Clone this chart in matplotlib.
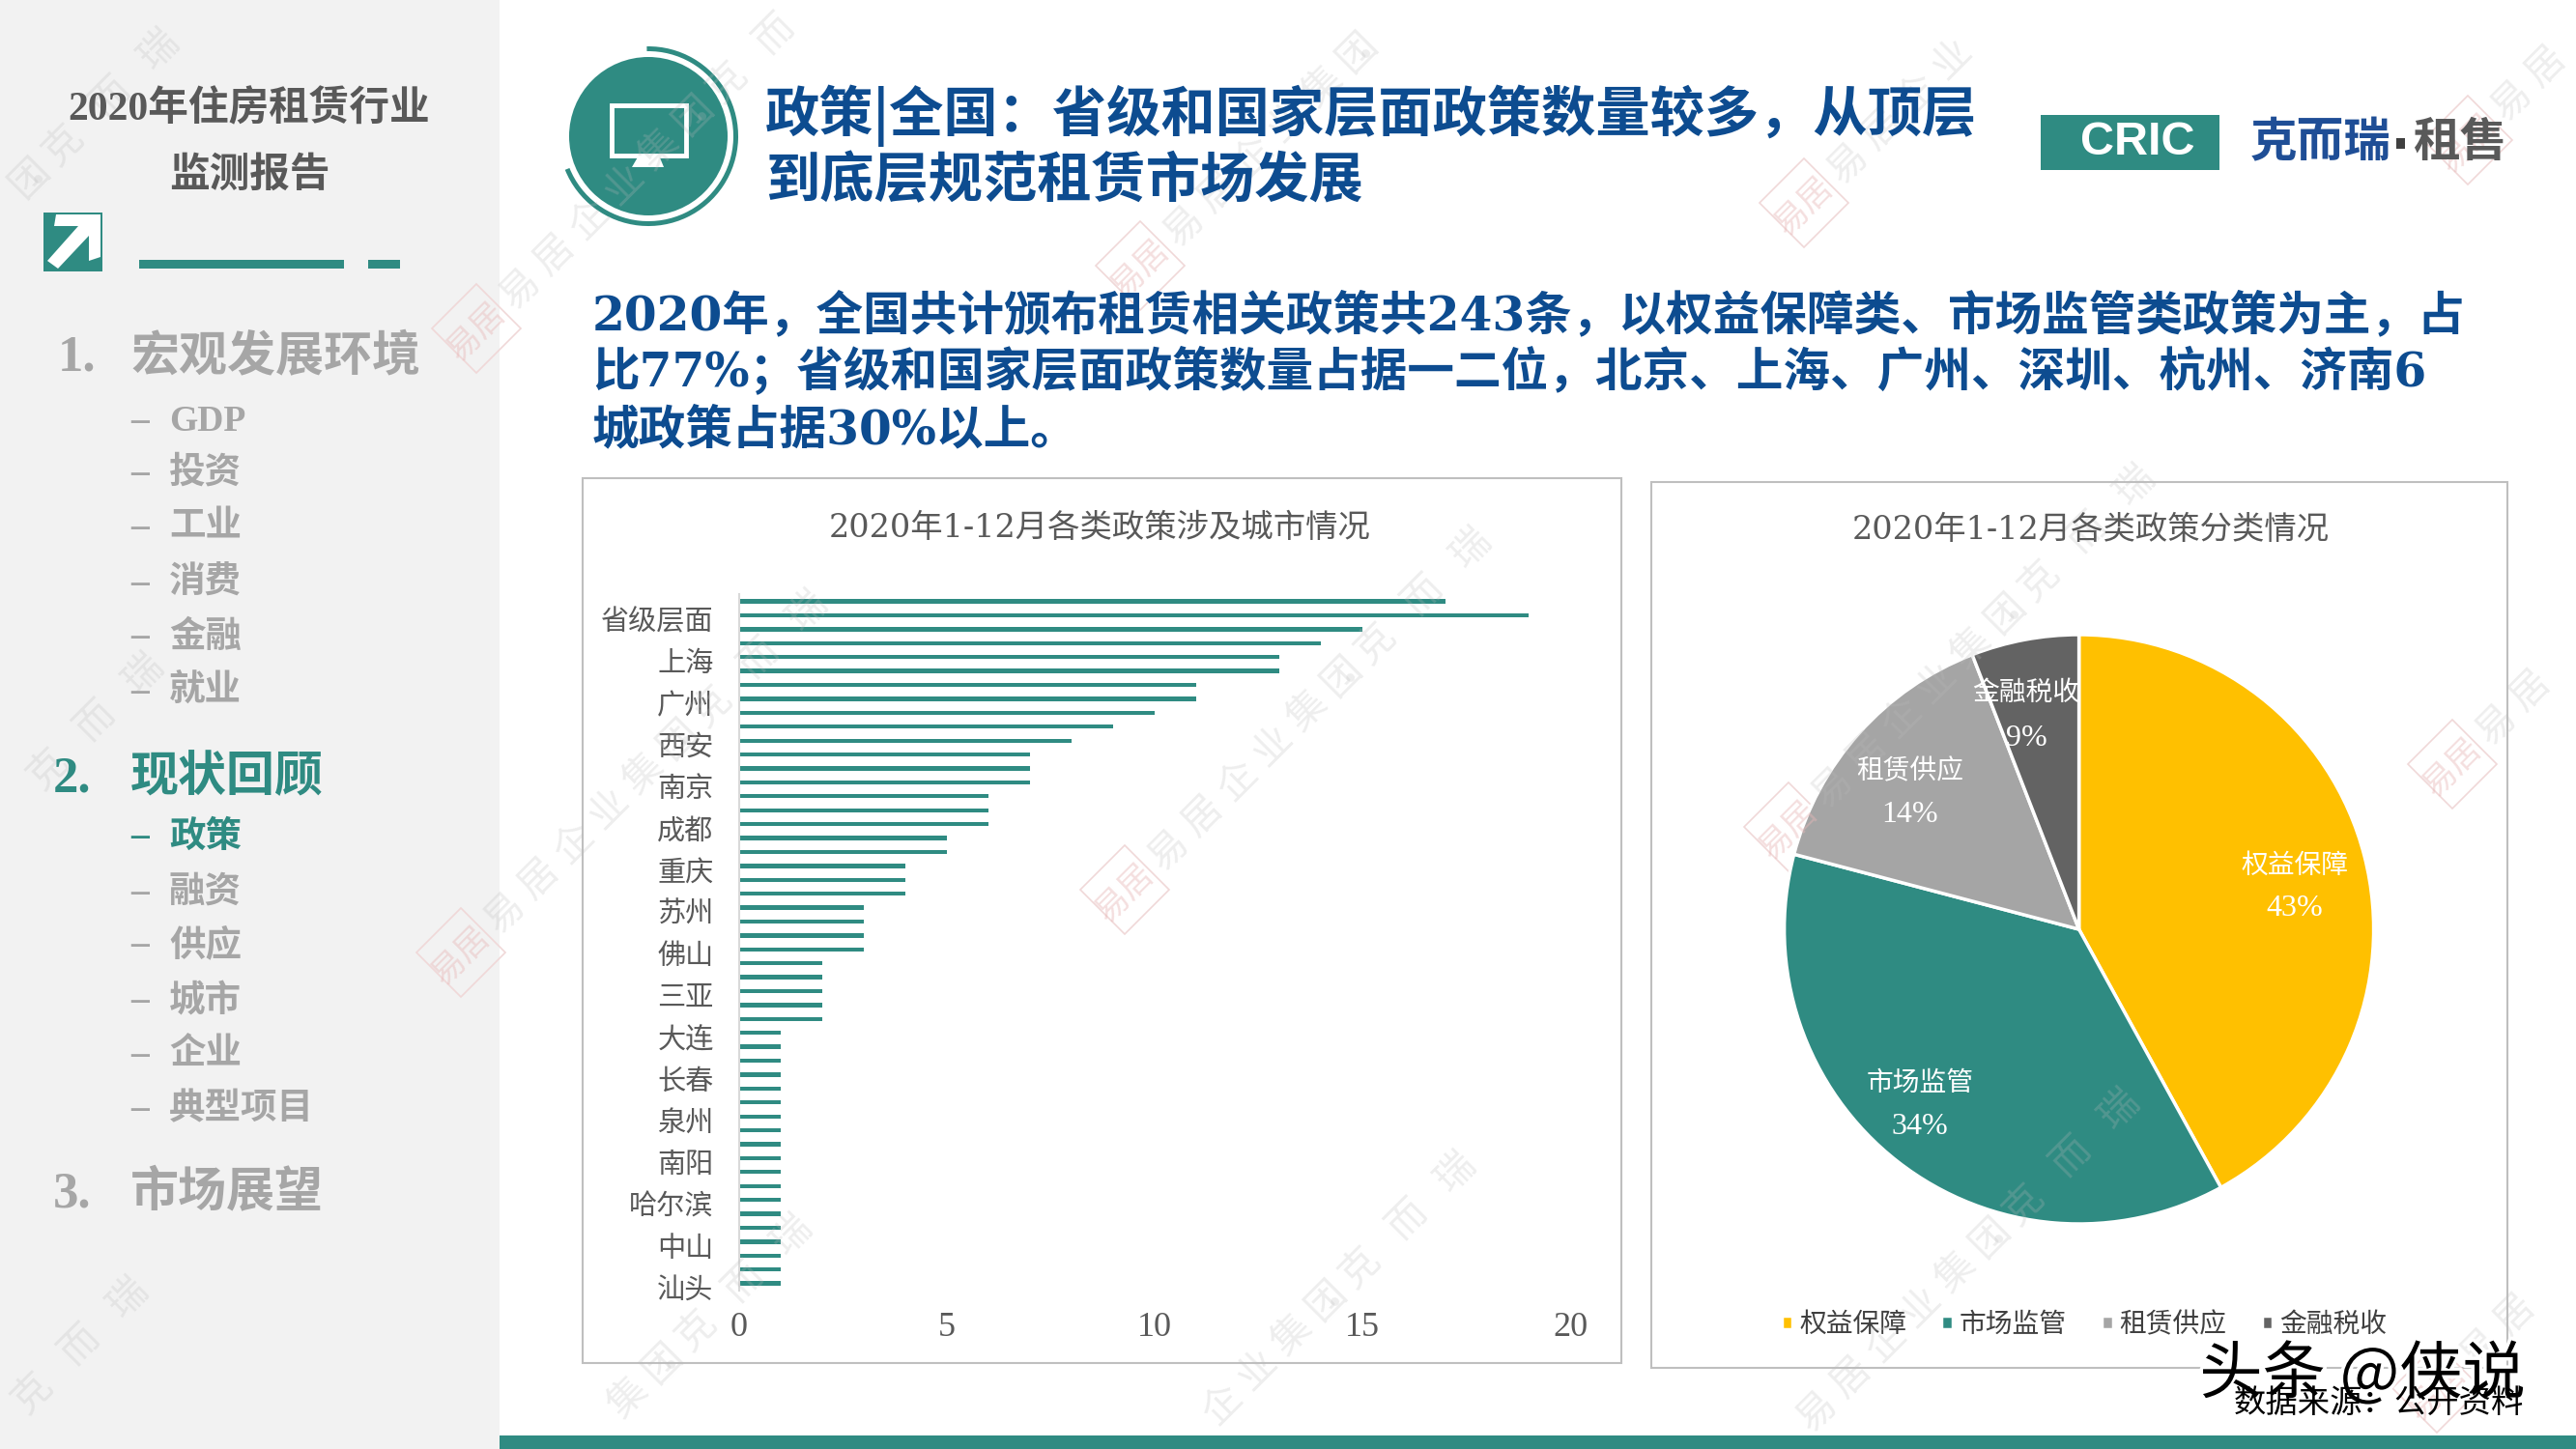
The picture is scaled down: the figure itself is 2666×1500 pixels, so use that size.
import matplotlib
matplotlib.use('Agg')
import matplotlib.pyplot as plt
import matplotlib.patheffects as pe
from matplotlib.patches import Rectangle, Circle, Wedge, Polygon
from matplotlib.transforms import ScaledTranslation

W, H = 2666, 1500
SERIF = ['Liberation Serif', 'Noto Sans CJK SC']
WIDE = ['DejaVu Serif', 'Noto Sans CJK SC']
CJK = ['Noto Sans CJK SC', 'DejaVu Sans']
TEAL = '#2F8B82'
BLUE = '#0D4C90'
GREY = '#A6A6A6'
DARK = '#595959'

# 条形图数据, 只有每三个城市显示一个标签
policy_counts = [17, 19, 15, 14, 13, 13, 11, 11, 10, 9, 8, 7, 7, 7, 6, 6, 6, 5, 5, 4, 4, 4, 3, 3, 3, 3,
                 2, 2, 2, 2, 2, 1, 1, 1, 1, 1, 1, 1, 1, 1, 1, 1, 1, 1, 1, 1, 1, 1, 1, 1]
city_labels = ['省级层面', '上海', '广州', '西安', '南京', '成都', '重庆', '苏州', '佛山', '三亚',
               '大连', '长春', '泉州', '南阳', '哈尔滨', '中山', '汕头']
x_ticks = [0, 5, 10, 15, 20]

# 饼图数据 (扇区大小按图上量出, 百分比文字按图上写的)
pie_names = ['权益保障', '市场监管', '租赁供应', '金融税收']
pie_sizes = [42, 37.1, 15, 5.9]
pie_percents = ['43%', '34%', '14%', '9%']
pie_colors = ['#FFC000', TEAL, '#A5A5A5', '#636363']

# 左侧目录
menu_main = [('1.', '宏观发展环境', 367, False), ('2.', '现状回顾', 802, True), ('3.', '市场展望', 1232, False)]
menu_sub = [('GDP', 432, False), ('投资', 486, False), ('工业', 542, False), ('消费', 600, False),
            ('金融', 656, False), ('就业', 712, False), ('政策', 863, True), ('融资', 920, False),
            ('供应', 975, False), ('城市', 1033, False), ('企业', 1088, False), ('典型项目', 1145, False)]

body_lines = ['2020年，全国共计颁布租赁相关政策共243条，以权益保障类、市场监管类政策为主，占',
              '比77%；省级和国家层面政策数量占据一二位，北京、上海、广州、深圳、杭州、济南6',
              '城政策占据30%以上。']

fig = plt.figure(figsize=(W / 100, H / 100), dpi=100, facecolor='white')


def px_axes(left, top, right, bottom, **kw):
    return fig.add_axes([left / W, 1 - bottom / H, (right - left) / W, (bottom - top) / H], **kw)


def txt(x, y, s, size, color=DARK, family=SERIF, weight='normal', ha='left', **kw):
    # 中文字形在 va=center 时偏上, 统一下移一点
    return fig.text(x / W, 1 - (y + 4) / H, s, fontsize=size, color=color, family=family, weight=weight,
                    ha=ha, va='center', **kw)


# 背景层, 用像素坐标画版式
bg = fig.add_axes([0, 0, 1, 1])
bg.set_xlim(0, W)
bg.set_ylim(H, 0)
bg.axis('off')
bg.add_patch(Rectangle((0, 0), 517, H, color='#F2F2F2', lw=0))
bg.add_patch(Rectangle((517, 1486), W - 517, 14, color=TEAL, lw=0, zorder=4))

# 箭头图标和横线
bg.add_patch(Rectangle((45, 220), 61, 61, color=TEAL, lw=0))
bg.add_patch(Polygon([(58, 222), (104, 222), (104, 266), (92, 270), (92, 244), (60, 278), (49, 270), (81, 234), (56, 234)],
                     color='white', lw=0))
bg.add_patch(Rectangle((144, 269), 212, 9, color=TEAL, lw=0))
bg.add_patch(Rectangle((381, 269), 33, 9, color=TEAL, lw=0))

# 标题前的圆形图标
bg.add_patch(Circle((671, 141), 82, color=TEAL, lw=0))
bg.add_patch(Wedge((671, 141), 93, -91, 158, width=5, color=TEAL, lw=0))
bg.add_patch(Rectangle((633, 109), 77, 52, facecolor='none', edgecolor='white', lw=3.5))
bg.add_patch(Polygon([(661, 161), (682, 161), (687, 173), (654, 173)], color='white', lw=0))

# logo
bg.add_patch(Rectangle((2112, 119), 185, 57, color=TEAL, lw=0))
bg.add_patch(Rectangle((2480, 143), 9, 11, color='#404040', lw=0))

# 两个图表的外框
bg.add_patch(Rectangle((603, 495), 1075, 916, facecolor='none', edgecolor='#BFBFBF', lw=1.5))
bg.add_patch(Rectangle((1709, 499), 886, 917, facecolor='none', edgecolor='#BFBFBF', lw=1.5))

# 水印
wm_offsets = [('易', 45), ('居', 81), ('企', 117), ('业', 153), ('集', 189), ('团', 225), ('·', 232),
              ('克', 259), ('而', 309), ('瑞', 358)]
for i in range(-1, 4):
    for j in range(0, 3):
        lx = 493 + i * 687 - j * 16
        ly = 340 - i * 65 + j * 646
        if 60 < lx < W - 60 and 60 < ly < H - 60:
            bg.add_patch(Polygon([(lx, ly - 46), (lx + 46, ly), (lx, ly + 46), (lx - 46, ly)],
                                 facecolor='none', edgecolor='#F0D8D8', lw=1.2, zorder=1.5))
            for ch, ox, oy in [('居', 12, -12), ('易', -12, 12)]:
                txt(lx + ox, ly + oy, ch, 25, color='#E8B8B8', family=CJK, ha='center', rotation=45, alpha=0.45)
        for ch, off in wm_offsets:
            tx, ty = lx + off, ly - off
            if 30 < tx < W - 30 and 30 < ty < H - 30:
                txt(tx, ty, ch, 29, color='#BBBBBB', family=CJK, ha='center', rotation=45, alpha=0.25)

# 左侧栏文字
txt(258, 109, '2020年住房租赁行业', 30, family=SERIF, weight='bold', ha='center')
txt(258, 178, '监测报告', 30, family=SERIF, weight='bold', ha='center')
for num, name, y, active in menu_main:
    c = TEAL if active else GREY
    txt(60 if num == '1.' else 55, y, num, 38, color=c, weight='bold')
    txt(135, y, name, 36, color=c, weight='bold')
for name, y, active in menu_sub:
    c = TEAL if active else GREY
    txt(135, y, '–', 27, color=c, weight='bold')
    txt(175, y, name, 27, color=c, weight='bold')

# 页面标题
txt(792, 116, '政策|全国：省级和国家层面政策数量较多，从顶层', 40.5, color=BLUE, family=CJK, weight='bold')
txt(792, 184, '到底层规范租赁市场发展', 40.5, color=BLUE, family=CJK, weight='bold')
txt(2212, 144, 'CRIC', 35, color='white', family=['Liberation Sans'], weight='bold', ha='center')
txt(2329, 144, '克而瑞', 35, color='#1F4E96', family=CJK, weight='bold')
txt(2497, 144, '租售', 35, color=DARK, family=CJK, weight='bold')

for line, y in zip(body_lines, [323, 381, 442]):
    txt(613, y, line, 35, color=BLUE, family=WIDE, weight='bold')

# 条形图
ax = px_axes(765, 615.4, 1625, 1335.8, facecolor='none')
ypos = list(range(len(policy_counts)))
ax.barh(ypos, policy_counts, height=0.3, color=TEAL)
ax.set_xlim(0, 20)
ax.set_ylim(len(policy_counts) - 0.5, -0.5)
for s in ['top', 'right', 'bottom']:
    ax.spines[s].set_visible(False)
ax.spines['left'].set_color('#D9D9D9')
ax.spines['left'].set_linewidth(1.5)
ax.set_xticks(x_ticks)
ax.set_yticks(ypos[1::3])
ax.set_yticklabels(city_labels, fontsize=21, color=DARK, family=SERIF)
ax.set_xticklabels(x_ticks, fontsize=26, color=DARK, family=SERIF)
ax.tick_params(axis='both', length=0)
ax.tick_params(axis='y', pad=19)
ax.tick_params(axis='x', pad=16)
for lab in ax.get_yticklabels():
    lab.set_transform(lab.get_transform() + ScaledTranslation(0, -0.05, fig.dpi_scale_trans))
txt(1138, 543, '2020年1-12月各类政策涉及城市情况', 24, family=WIDE, ha='center')

# 饼图
R = 305 * 1.25
ax2 = px_axes(2151.6 - R, 962 - R, 2151.6 + R, 962 + R, facecolor='none')
wedges, _ = ax2.pie(pie_sizes, colors=pie_colors, startangle=90, counterclock=False,
                    wedgeprops={'edgecolor': 'white', 'linewidth': 2.5})
pie_label_pos = [(2375, 893, 936), (1987, 1118, 1162), (1977, 795, 839), (2097, 714, 760)]
for name, pct, (lx, y1, y2) in zip(pie_names, pie_percents, pie_label_pos):
    txt(lx, y1, name, 20, color='white', family=SERIF, ha='center')
    txt(lx, y2, pct, 23, color='white', family=SERIF, ha='center')
txt(2164, 545, '2020年1-12月各类政策分类情况', 24, family=WIDE, ha='center')
ax2.legend(wedges, pie_names, ncol=4, frameon=False, loc='center',
           bbox_to_anchor=(2157 / W, 1 - 1372 / H), bbox_transform=fig.transFigure,
           prop={'family': SERIF, 'size': 20}, labelcolor='#404040',
           handlelength=0.42, handleheight=0.42, handletextpad=0.25, columnspacing=1.3)

# 底部来源和头条水印
stamp = txt(2445, 1420, '头条 @侠说', 47, color='black', family=CJK, ha='center')
stamp.set_path_effects([pe.withStroke(linewidth=5, foreground='white')])
txt(2612, 1448, '数据来源：公开资料', 24, color='black', family=CJK, ha='right', zorder=6)

fig.savefig('out.png', dpi=100)
